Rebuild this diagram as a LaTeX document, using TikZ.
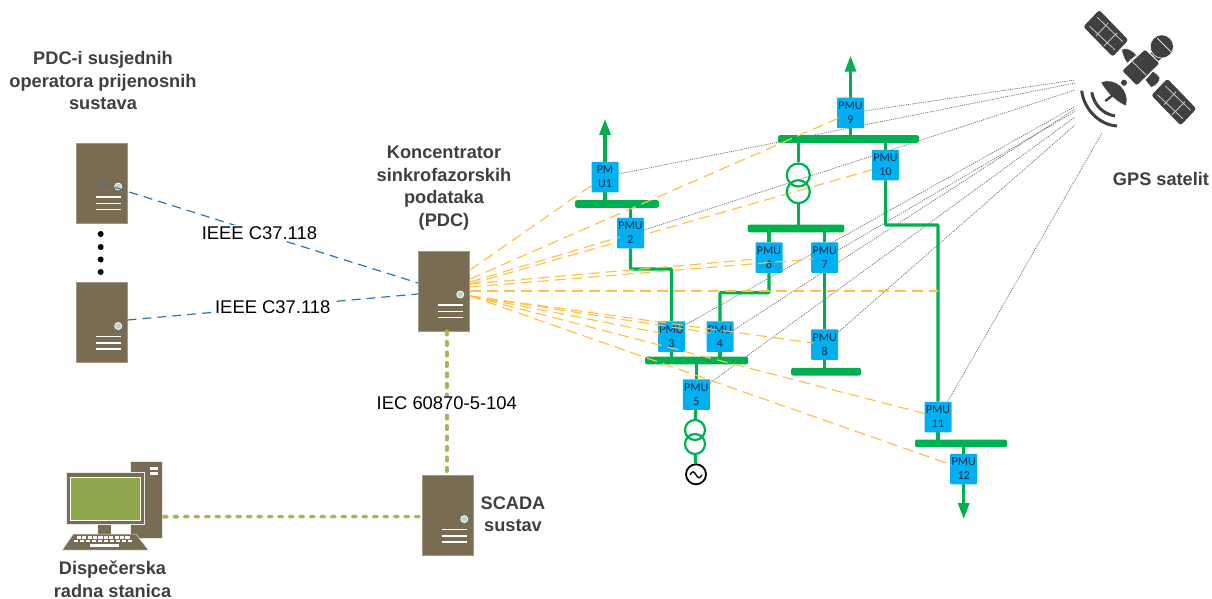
\documentclass[tikz,border=0pt]{standalone}
\usepackage{fontspec}
\setmainfont{Liberation Sans}
\newfontfamily\pmufont{Carlito}
\usetikzlibrary{arrows.meta,calc}
\pgfdeclarelayer{bg}
\pgfsetlayers{bg,main}
\definecolor{srv}{HTML}{786D52}
\definecolor{grn}{HTML}{00B050}
\definecolor{blu}{HTML}{00B0F0}
\definecolor{org}{HTML}{FFC043}
\definecolor{lgr}{HTML}{9BBB59}
\definecolor{lnk}{HTML}{2E75B6}
\definecolor{sat}{HTML}{404040}
\definecolor{txt}{HTML}{3F3F3F}
\definecolor{pmut}{HTML}{0C2A4C}
\definecolor{scrn}{HTML}{8FA84E}
\definecolor{led}{HTML}{B5D5CC}
\tikzset{
  pmubox/.style={fill=blu,rounded corners=0.8pt,minimum width=27pt,minimum height=30.5pt,inner sep=0pt,text=pmut,
    font=\pmufont\fontsize{12}{14}\selectfont,align=center},
  busbar/.style={fill=grn,rounded corners=2pt,inner sep=0pt,minimum height=7.6pt},
  gl/.style={draw=grn,line width=3.3pt},
  garrow/.style={draw=grn,line width=3.3pt,-{Triangle[width=11pt,length=16pt]}},
  xfmr/.style={circle,draw=grn,line width=2.2pt,inner sep=0pt},
  gray line/.style={draw=black!55,line width=0.7pt,dash pattern=on 1.2pt off 1pt},
  ol/.style={draw=org,line width=1.15pt,dash pattern=on 11pt off 6pt},
  bl/.style={draw=lnk,line width=1.2pt,dash pattern=on 9pt off 6pt},
  dl/.style={draw=lgr,line width=3.6pt,line cap=round,dash pattern=on 3.5pt off 7pt},
  srvbox/.style={fill=srv,draw=srv!70!white,line width=0.5pt,minimum width=51pt,minimum height=80pt,inner sep=0pt},
  lbl/.style={text=txt,font=\bfseries\fontsize{18.2}{22.5}\selectfont,align=center,inner sep=0pt},
  proto/.style={fill=white,text=black,font=\fontsize{18.4}{22}\selectfont,inner sep=1pt},
  satf/.style={fill=sat,draw=white,line width=0.6pt,line join=round},
  satl/.style={draw=white!70!sat,line width=0.8pt},
}
\newcommand{\serverbox}[3]{%
  \node[srvbox] (#1) at (#2,#3) {};
  \filldraw[fill=led,draw=white,line width=0.8pt] ($(#1)+(16.5,3.5)$) circle (3.5pt);
  \foreach \dy in {14,20.3,26.6}
    \draw[white,line width=1.6pt] ($(#1)+(-6,\dy)$) -- ($(#1)+(19.5,\dy)$);
}
\begin{document}
\begin{tikzpicture}[x=1pt,y=-1pt]
\useasboundingbox (0,0) rectangle (1212,599);

% ---------- servers
\serverbox{s1}{101.7}{183}
\serverbox{s2}{101.7}{322.5}
\serverbox{pdc}{443.8}{291}
\serverbox{scada}{447.8}{515.6}
\foreach \yy/\nn in {234/a,247/b,259.5/c,272/d}
  \node[circle,fill=black,inner sep=0pt,minimum size=6pt] (dot\nn) at (100.7,\yy) {};

% ---------- PMU boxes and bars
\node[pmubox] (pu1) at (605,177) {PM\\U1};
\node[pmubox] (p2) at (630.5,233) {PMU\\2};
\node[pmubox] (p3) at (671.5,336.5) {PMU\\3};
\node[pmubox] (p4) at (720,336.5) {PMU\\4};
\node[pmubox] (p5) at (696.3,394.5) {PMU\\5};
\node[pmubox] (p6) at (769,257.5) {PMU\\6};
\node[pmubox] (p7) at (824.7,257.5) {PMU\\7};
\node[pmubox] (p8) at (824.7,344.5) {PMU\\8};
\node[pmubox] (p9) at (850.5,113) {PMU\\9};
\node[pmubox] (p10) at (885.5,165) {PMU\\10};
\node[pmubox] (p11) at (938,417) {PMU\\11};
\node[pmubox] (p12) at (963.7,469) {PMU\\12};

\node[busbar,minimum width=84pt] (b1) at (617,204) {};
\node[busbar,minimum width=141pt] (b2) at (848.5,139) {};
\node[busbar,minimum width=96.6pt] (b3) at (796,228.5) {};
\node[busbar,minimum width=103pt] (b4) at (696.5,360.5) {};
\node[busbar,minimum width=70pt] (b5) at (826,371.7) {};
\node[busbar,minimum width=92pt] (b6) at (961,443.3) {};

% ---------- transformers, generator
\node[xfmr,minimum size=23pt] (t1a) at (798.3,175) {};
\node[xfmr,minimum size=23pt] (t1b) at (798.3,191.7) {};
\node[xfmr,minimum size=20pt] (t2a) at (695,430) {};
\node[xfmr,minimum size=20pt] (t2b) at (695,444) {};
\node[circle,draw=black,line width=1.8pt,minimum size=20pt,inner sep=0pt] (gen) at (696,474.3) {};
\draw[black,line width=1.3pt] ($(gen)+(-6,0.5)$) sin +(3,-3) cos +(3,3) sin +(3,3) cos +(3,-3);

% ---------- free ends
\coordinate (upU1) at (605,119);
\coordinate (up9) at (850.5,55.7);
\coordinate (dn12) at (963.7,519);
\coordinate (h1) at (630.5,269);
\coordinate (h2) at (720,292.7);
\coordinate (h3) at (938,225);

\coordinate (sa) at (1075,80);
\coordinate (sb) at (1075,83);
\coordinate (sc) at (1075,90);
\coordinate (sd) at (1075,106.5);
\coordinate (se) at (1075,109);
\coordinate (sf) at (1075,111.5);
\coordinate (sg) at (1075,117);
\coordinate (sh) at (1075,125);
\coordinate (si) at (1102,133);

\coordinate (oa) at (470,270);
\coordinate (ob) at (470,279);
\coordinate (oc) at (470,282);
\coordinate (od) at (470,284);
\coordinate (oe) at (470,287);
\coordinate (of) at (470,291);
\coordinate (og) at (470,296);
\coordinate (hend) at (938,291);

\begin{pgfonlayer}{bg}
  % gray dotted time signal lines
  \draw[gray line] (p9.east) ++(0,-2) -- (sa);
  \draw[gray line] (pu1.east) ++(0,-3) -- (sb);
  \draw[gray line] (p2.east) ++(0,-3) -- (sc);
  \draw[gray line] (p3.east) ++(0,-11.5) -- (sd);
  \draw[gray line] (p4.east) ++(0,-6.5) -- (se);
  \draw[gray line] (p7.east) ++(0,-7.5) -- (sf);
  \draw[gray line] (p5.east) ++(0,-11.5) -- (sg);
  \draw[gray line] (p8.east) ++(0,-12.5) -- (sh);
  \draw[gray line] (p11.north east) ++(-4,0) -- (si);

  % green network
  \draw[garrow] (pu1) -- (upU1);
  \draw[garrow] (p9) -- (up9);
  \draw[garrow] (p12) -- (dn12);
  \draw[gl] (pu1) -- (pu1 |- b1);
  \draw[gl] (p2 |- b1) -- (p2);
  \draw[gl,rounded corners=1pt] (p2) -- (h1) -| (p3);
  \draw[gl] (p3) -- (p3 |- b4);
  \draw[gl] (p4) -- (p4 |- b4);
  \draw[gl] (p5 |- b4) -- (p5);
  \draw[gl] (p5) -- (t2a);
  \draw[gl] (t2b) -- (gen);
  \draw[gl] (p9) -- (p9 |- b2);
  \draw[gl] (t1a |- b2) -- (t1a.north);
  \draw[gl] (t1b.south) -- (t1b |- b3);
  \draw[gl] (p6 |- b3) -- (p6);
  \draw[gl] (p7 |- b3) -- (p7);
  \draw[gl] (p7) -- (p8);
  \draw[gl] (p8) -- (p8 |- b5);
  \draw[gl,rounded corners=1pt] (p6) |- (h2) -- (p4);
  \draw[gl] (p10 |- b2) -- (p10);
  \draw[gl,rounded corners=1pt] (p10) |- (h3) -- (p11);
  \draw[gl] (p11) -- (p11 |- b6);
  \draw[gl] (p12 |- b6) -- (p12);
  % orange line that passes behind PMU 2
  \draw[ol] (od) -- ($(p10.west)+(3,4)$);
\end{pgfonlayer}

% ---------- orange dashed data lines
\draw[ol] (oa) -- ($(pu1.west)+(1,8)$);
\draw[ol] (ob) -- ($(p9.west)+(2,5)$);
\draw[ol] (oc) -- ($(p2.west)+(3,4)$);
\draw[ol] (od) -- ($(p6.west)+(1.5,1.5)$);
\draw[ol] (oe) -- ($(p7.west)+(2,1.5)$);
\draw[ol] (of) -- (hend);
\draw[ol] (og) -- ($(p3.west)+(2,-3.5)$);
\draw[ol] (og) -- ($(p4.west)+(4,-3.5)$);
\draw[ol] (og) -- ($(p8.west)+(2,-1.5)$);
\draw[ol] (og) -- ($(p11.west)+(2,-3)$);
\draw[ol] (og) -- ($(p12.west)+(2,-4)$);

% ---------- blue protocol links
\draw[bl] ($(s1)+(-1,0)$) -- ($(pdc.west)+(0,-8)$) node[proto,pos=0.5] (l1) {IEEE C37.118};
\draw[bl] (s2.east) ++(0,-2.5) -- ($(pdc.west)+(0,3)$) node[proto,pos=0.5] (l2) {IEEE C37.118};

% ---------- dotted green links
\draw[dl] (pdc.south) ++(3,0) -- ($(scada.north)+(-1,0)$) node[proto,pos=0.5] (l3) {IEC 60870-5-104};

% ---------- workstation
\node[fill=srv,draw=white!85!srv,line width=0.6pt,minimum width=32pt,minimum height=77pt,inner sep=0pt] (tower) at (146.7,500.2) {};
\fill[white] (150,467) rectangle (157.7,470);
\fill[white] (150,472) rectangle (157.7,474.7);
\fill[srv] (98.3,524) rectangle (111.3,534);
\node[fill=srv,draw=white!85!srv,line width=0.6pt,minimum width=78.7pt,minimum height=51.6pt,inner sep=0pt] (mon) at (105.3,498.5) {};
\node[fill=scrn,draw=white,line width=0.9pt,minimum width=70pt,minimum height=42.7pt,inner sep=0pt] (scr) at (105,498.7) {};
\filldraw[fill=srv,draw=white!85!srv,line width=0.5pt] (73.3,534) -- (136,534) -- (148.3,550) -- (62.3,550) -- cycle;
\foreach \i in {0,...,9} {
  \fill[white] ({76.7+\i*5.4},536) rectangle ++(4.2,2.6);
  \fill[white] ({73.5+\i*6},539.9) rectangle ++(4.8,2.5);
}
\fill[white] (90,544.2) rectangle (119.3,546.8);
\draw[dl] ($(tower.east)+(0.5,16.5)$) -- ($(scada.west)+(0,1)$);

% ---------- satellite
\fill[sat,rounded corners=2.5pt] (1099.3,10) -- (1128.3,40) -- (1112.7,56.7) -- (1083.3,26.7) -- cycle;
\draw[satl] (1089.3,26) -- (1115,50);
\draw[satl] (1097.3,17.3) -- (1122.7,41.7);
\draw[satl] (1108,23) -- (1096,36);
\draw[satl] (1117,33) -- (1104,46);
\begin{scope}[shift={(68,68.7)}]
\fill[sat,rounded corners=2.5pt] (1099.3,10) -- (1128.3,40) -- (1112.7,56.7) -- (1083.3,26.7) -- cycle;
\draw[satl] (1089.3,26) -- (1115,50);
\draw[satl] (1097.3,17.3) -- (1122.7,41.7);
\draw[satl] (1108,23) -- (1096,36);
\draw[satl] (1117,33) -- (1104,46);
\end{scope}
\fill[satf] (1121.7,49.3) .. controls (1127,47) and (1132,50) .. (1136.7,55) -- (1127.3,63.3) .. controls (1124,59) and (1122,54) .. cycle;
\fill[satf] (1160,77.7) .. controls (1160,82) and (1156,86) .. (1151,87.5) -- (1145,80) -- (1153,71) .. controls (1156,73) and (1158,75) .. cycle;
\filldraw[satf] (1150,53.3) -- (1156.7,46.7) -- (1165,55) -- (1158.3,61.7) -- cycle;
\filldraw[satf] (1161.8,46.5) circle (11.6pt);
\draw[white,line width=0.7pt] (1157,38) -- (1171,52);
\filldraw[satf,rounded corners=2.5pt] (1145,49) -- (1160,63.3) -- (1136.7,86) -- (1121.7,70.7) -- cycle;
\draw[satl] (1130,59.3) -- (1146,75);
\filldraw[satf] (1124,82.7) circle (3.5pt);
\filldraw[satf] (1100.7,82.3) .. controls (1115,76) and (1131,90) .. (1126,106) .. controls (1118,103) and (1107,94) .. cycle;
\draw[sat,line width=2.4pt,line cap=round] (1111.7,96) -- (1105.7,100.7);
\draw[sat,line width=3pt] (1091.7,92.3) .. controls (1094,105) and (1103,114) .. (1115,116);
\draw[sat,line width=3pt] (1081.7,90.7) .. controls (1084,110) and (1100,125) .. (1117,126);

% ---------- labels
\node[lbl] (tn) at (103,80.5) {PDC-i susjednih\\operatora prijenosnih\\sustava};
\node[lbl] (tp) at (444,188) {Koncentrator\\sinkrofazorskih\\podataka\\(PDC)};
\node[lbl] (tg) at (1161,179) {GPS satelit};
\node[lbl] (ts) at (513,514) {SCADA\\sustav};
\node[lbl] (td) at (112.5,579.5) {Dispečerska\\radna stanica};
\end{tikzpicture}
\end{document}
